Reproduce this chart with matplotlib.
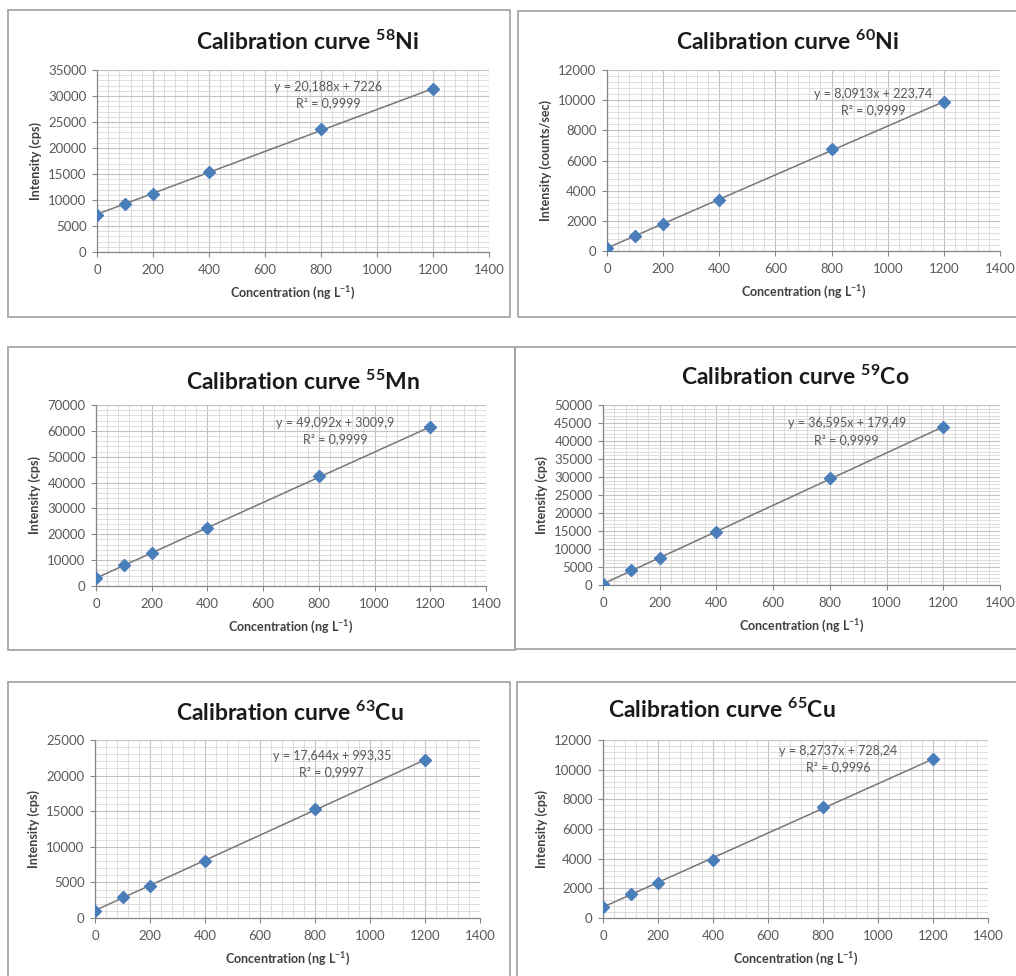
import matplotlib
matplotlib.use("Agg")
import matplotlib.pyplot as plt
import numpy as np
from matplotlib.patches import Rectangle
from matplotlib.ticker import MultipleLocator

plt.rcParams["font.family"] = ["Lato", "DejaVu Sans"]
plt.rcParams["mathtext.fontset"] = "custom"
plt.rcParams["mathtext.rm"] = "Lato:bold"
plt.rcParams["mathtext.it"] = "Lato:bold"
plt.rcParams["mathtext.bf"] = "Lato:bold"

W, H = 1016, 976

# concentrations (ng/L), same for every isotope
conc = [0, 100, 200, 400, 800, 1200]

# intensities
ni58 = [7200, 9300, 11250, 15300, 23580, 31300]
ni60 = [230, 1000, 1780, 3380, 6760, 9860]
mn55 = [3000, 8150, 12700, 22300, 42400, 61400]
co59 = [250, 4150, 7420, 14800, 29650, 43850]
cu63 = [1050, 2950, 4500, 7970, 15290, 22180]
cu65 = [740, 1650, 2360, 3940, 7490, 10690]

isotopes = ["58", "60", "55", "59", "63", "65"]
elements = ["Ni", "Ni", "Mn", "Co", "Cu", "Cu"]
series = [ni58, ni60, mn55, co59, cu63, cu65]
ymax = [35000, 12000, 70000, 50000, 25000, 12000]
ystep = [5000, 2000, 10000, 5000, 5000, 2000]
ylabels = ["Intensity (cps)", "Intensity (counts/sec)", "Intensity (cps)",
           "Intensity (cps)", "Intensity (cps)", "Intensity (cps)"]
eq_text = ["y = 20,188x + 7226\nR\u00b2 = 0,9999",
           "y = 8,0913x + 223,74\nR\u00b2 = 0,9999",
           "y = 49,092x + 3009,9\nR\u00b2 = 0,9999",
           "y = 36,595x + 179,49\nR\u00b2 = 0,9999",
           "y = 17,644x + 993,35\nR\u00b2 = 0,9997",
           "y = 8,2737x + 728,24\nR\u00b2 = 0,9996"]

# layout in pixels: (left, right, top, bottom) of plot area
axes_px = [(97, 489, 70, 252), (607, 1000, 70, 251),
           (96, 486, 405, 586), (603, 1000, 405, 585),
           (95, 480, 740, 918), (603, 988, 740, 918)]
frames_px = [(8, 510, 10, 317), (518, 1020, 11, 317),
             (8, 515, 347, 650), (515, 1020, 347, 649),
             (8, 510, 682, 990), (517, 1020, 682, 990)]
title_px = [(308, 42), (788, 42), (303, 382), (795, 377), (290, 713), (722, 710)]
eq_pos = [(0.59, 0.862), (0.678, 0.822), (0.613, 0.857),
          (0.614, 0.853), (0.615, 0.864), (0.611, 0.891)]

fig = plt.figure(figsize=(W / 100, H / 100), dpi=100)

for (l, r, t, b) in frames_px:
    fig.patches.append(Rectangle((l / W, 1 - b / H), (r - l) / W, (b - t) / H,
                                 transform=fig.transFigure, fill=False,
                                 edgecolor="#a6a6a6", linewidth=1.3))

for i in range(6):
    l, r, t, b = axes_px[i]
    ax = fig.add_axes([l / W, 1 - b / H, (r - l) / W, (b - t) / H])
    x = np.array(conc, dtype=float)
    y = np.array(series[i], dtype=float)

    # linear trendline
    k, c = np.polyfit(x, y, 1)
    ax.plot([0, 1200], [c, k * 1200 + c], color="#777777", lw=1.1, zorder=3)
    ax.plot(x, y, linestyle="none", marker="D", ms=6.5, color="#4a7ebb",
            markeredgecolor="#4a7ebb", zorder=4)

    ax.set_xlim(0, 1400)
    ax.set_ylim(0, ymax[i])
    ax.xaxis.set_major_locator(MultipleLocator(200))
    ax.xaxis.set_minor_locator(MultipleLocator(40))
    ax.yaxis.set_major_locator(MultipleLocator(ystep[i]))
    ax.yaxis.set_minor_locator(MultipleLocator(ystep[i] / 5))
    ax.grid(True, which="major", color="#c2c2c2", lw=0.8)
    ax.grid(True, which="minor", color="#d8d8d8", lw=0.6)
    ax.set_axisbelow(True)

    for s in ["top", "right"]:
        ax.spines[s].set_visible(False)
    for s in ["left", "bottom"]:
        ax.spines[s].set_color("#868686")
        ax.spines[s].set_linewidth(0.9)
    ax.tick_params(which="major", direction="out", length=3.5, width=0.8,
                   color="#868686", labelsize=9.5, labelcolor="#595959")
    ax.tick_params(axis="x", pad=5)
    ax.tick_params(axis="y", pad=4)
    ax.tick_params(which="minor", length=0)

    ax.set_xlabel(r"Concentration (ng L$^{-1}$)", fontsize=9,
                  fontweight="bold", color="#404040")
    ax.xaxis.set_label_coords(0.5, -33 / (b - t))
    ax.set_ylabel(ylabels[i], fontsize=9, fontweight="bold", color="#404040")
    ax.yaxis.set_label_coords(-55 / (r - l), 0.5)

    ax.text(eq_pos[i][0], eq_pos[i][1], eq_text[i], transform=ax.transAxes,
            ha="center", va="center", fontsize=9, color="#595959",
            linespacing=1.45, zorder=5)

    tx, ty = title_px[i]
    fig.text(tx / W, 1 - ty / H,
             "Calibration curve $^{%s}$%s" % (isotopes[i], elements[i]),
             ha="center", va="center", fontsize=16.5, fontweight="bold",
             color="#1a1a1a")

fig.savefig("out.png", dpi=100)
